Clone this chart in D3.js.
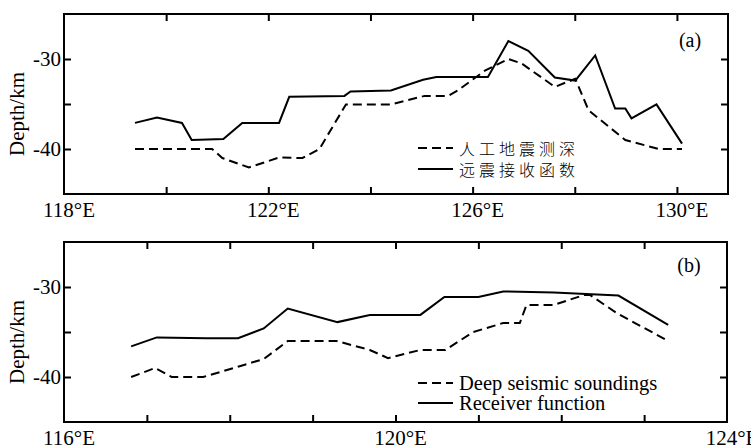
<!DOCTYPE html>
<html>
<head>
<meta charset="utf-8">
<script src="https://cdn.jsdelivr.net/npm/d3@7"></script>
<style>
	body { margin: 0; background: #fff; }
	svg text { font-family: "Liberation Serif", "Times New Roman", serif; fill: #000; }
</style>
</head>
<body>
<svg id="chart" width="751" height="445"></svg>
<script>

// panel (a): lon / depth
let a_rf_lon = [119.39, 119.82, 120.31, 120.50, 121.12, 121.49, 122.21, 122.41, 123.49, 123.61, 124.40, 125.03, 125.29, 126.30, 126.70, 127.09, 127.61, 128.01, 128.40, 128.79, 128.99, 129.11, 129.60, 130.10];
let a_rf_dep = [-37.1, -36.5, -37.1, -39.0, -38.9, -37.1, -37.1, -34.2, -34.1, -33.6, -33.5, -32.3, -32.0, -32.0, -28.0, -29.1, -32.05, -32.4, -29.6, -35.5, -35.5, -36.6, -35.05, -39.4];
let a_dss_lon = [119.39, 120.90, 121.10, 121.62, 122.21, 122.67, 123.00, 123.52, 124.40, 125.06, 125.52, 125.71, 126.24, 126.70, 126.96, 127.61, 128.01, 128.27, 128.99, 129.64, 130.10];
let a_dss_dep = [-40.0, -40.0, -41.0, -42.05, -40.95, -41.0, -40.0, -35.05, -35.05, -34.1, -34.1, -33.5, -31.3, -30.0, -30.5, -33.1, -32.2, -35.7, -39.0, -40.0, -40.0];

// panel (b)
let b_rf_lon = [116.81, 117.12, 117.72, 118.10, 118.41, 118.70, 119.30, 119.69, 120.30, 120.59, 121.00, 121.30, 121.91, 122.69, 123.29];
let b_rf_dep = [-36.6, -35.6, -35.7, -35.7, -34.6, -32.4, -33.9, -33.1, -33.1, -31.1, -31.1, -30.5, -30.6, -30.95, -34.2];
let b_dss_lon = [116.81, 117.10, 117.30, 117.68, 118.12, 118.41, 118.70, 119.29, 119.69, 119.91, 120.30, 120.60, 120.94, 121.30, 121.50, 121.58, 121.91, 122.27, 122.35, 122.67, 123.29];
let b_dss_dep = [-40.0, -39.0, -40.0, -40.0, -38.8, -38.0, -36.0, -36.0, -37.0, -37.9, -37.0, -37.0, -35.0, -34.0, -34.0, -32.0, -32.0, -30.9, -30.9, -32.9, -36.0];

let a_ticks = [120, 122, 124, 126, 128, 130];
let a_labels = [118, 122, 126, 130];
let b_ticks = [117, 118, 119, 120, 121, 122, 123];
let b_labels = [116, 120, 124];
let depth_ticks = [-30, -35, -40];
let depth_labels = [-30, -40];

let legend_a = ['人工地震测深', '远震接收函数'];
let legend_b = ['Deep seismic soundings', 'Receiver function'];

let svg = d3.select('#chart');

function zip(xs, ys) {
	return xs.map((x, i) => [x, ys[i]]);
}

function drawPanel(opt) {
	let left = 64, right = opt.right;
	let top = opt.top, bottom = opt.top + 180;

	let x = d3.scaleLinear().domain(opt.xdomain).range([left, right]);
	let y = d3.scaleLinear().domain([-45, -25]).range([bottom, top]);

	let g = svg.append('g');

	// inward ticks on every side
	let tl = 7;
	g.append('g').attr('transform', `translate(0,${bottom})`)
		.call(d3.axisBottom(x).tickValues(opt.ticks).tickSize(-tl).tickFormat(''));
	g.append('g').attr('transform', `translate(0,${top})`)
		.call(d3.axisTop(x).tickValues(opt.ticks).tickSize(-tl).tickFormat(''));
	g.append('g').attr('transform', `translate(${left},0)`)
		.call(d3.axisLeft(y).tickValues(depth_ticks).tickSize(-tl).tickFormat(''));
	g.append('g').attr('transform', `translate(${right},0)`)
		.call(d3.axisRight(y).tickValues(depth_ticks).tickSize(-tl).tickFormat(''));
	g.selectAll('.domain').remove();
	g.selectAll('.tick line').attr('stroke', '#000').attr('stroke-width', 2);

	g.append('rect')
		.attr('x', left).attr('y', top)
		.attr('width', right - left).attr('height', bottom - top)
		.attr('fill', 'none').attr('stroke', '#000').attr('stroke-width', 2);

	// tick labels
	g.selectAll('.xl').data(opt.labels).enter().append('text')
		.attr('x', d => x(d) + 5)
		.attr('y', bottom + 23)
		.attr('text-anchor', 'middle')
		.style('font-size', '21px')
		.text(d => d + '°E');
	g.selectAll('.yl').data(depth_labels).enter().append('text')
		.attr('x', left - 3)
		.attr('y', d => y(d) + 7)
		.attr('text-anchor', 'end')
		.style('font-size', '21px')
		.text(d => d);

	g.append('text')
		.attr('transform', `translate(24,${(top + bottom) / 2 + 10}) rotate(-90)`)
		.attr('text-anchor', 'middle')
		.style('font-size', '21px')
		.text('Depth/km');

	g.append('text')
		.attr('x', right - 38).attr('y', top + opt.tagdy)
		.attr('text-anchor', 'middle')
		.style('font-size', '20px')
		.text(opt.tag);

	let line = d3.line().x(d => x(d[0])).y(d => y(d[1]));
	g.append('path').datum(zip(opt.dss_lon, opt.dss_dep))
		.attr('d', line).attr('fill', 'none').attr('stroke', '#000')
		.attr('stroke-width', 2).attr('stroke-dasharray', '9,5');
	g.append('path').datum(zip(opt.rf_lon, opt.rf_dep))
		.attr('d', line).attr('fill', 'none').attr('stroke', '#000')
		.attr('stroke-width', 2);

	// legend
	let ly = opt.legendY;
	g.append('line').attr('x1', 418).attr('x2', 453).attr('y1', ly).attr('y2', ly)
		.attr('stroke', '#000').attr('stroke-width', 2).attr('stroke-dasharray', '9,5');
	g.append('line').attr('x1', 418).attr('x2', 453).attr('y1', ly + opt.legendGap).attr('y2', ly + opt.legendGap)
		.attr('stroke', '#000').attr('stroke-width', 2);
	opt.legend.forEach((t, i) => {
		let txt = g.append('text')
			.attr('x', 459).attr('y', ly + i * opt.legendGap + opt.legendDy)
			.text(t);
		if (opt.cjk) {
			txt.style('font-family', '"Noto Sans CJK SC", sans-serif')
				.style('font-size', '16px')
				.style('letter-spacing', '4px')
				.style('font-weight', '300');
		} else {
			txt.style('font-size', '20.5px');
		}
	});
}

drawPanel({
	top: 14, right: 728, xdomain: [118, 131],
	ticks: a_ticks, labels: a_labels, tag: '(a)', tagdy: 33,
	rf_lon: a_rf_lon, rf_dep: a_rf_dep, dss_lon: a_dss_lon, dss_dep: a_dss_dep,
	legend: legend_a, legendY: 148, legendGap: 21, legendDy: 7, cjk: true
});

drawPanel({
	top: 242, right: 727, xdomain: [116, 124],
	ticks: b_ticks, labels: b_labels, tag: '(b)', tagdy: 30,
	rf_lon: b_rf_lon, rf_dep: b_rf_dep, dss_lon: b_dss_lon, dss_dep: b_dss_dep,
	legend: legend_b, legendY: 383, legendGap: 20, legendDy: 7, cjk: false
});

</script>
</body>
</html>
